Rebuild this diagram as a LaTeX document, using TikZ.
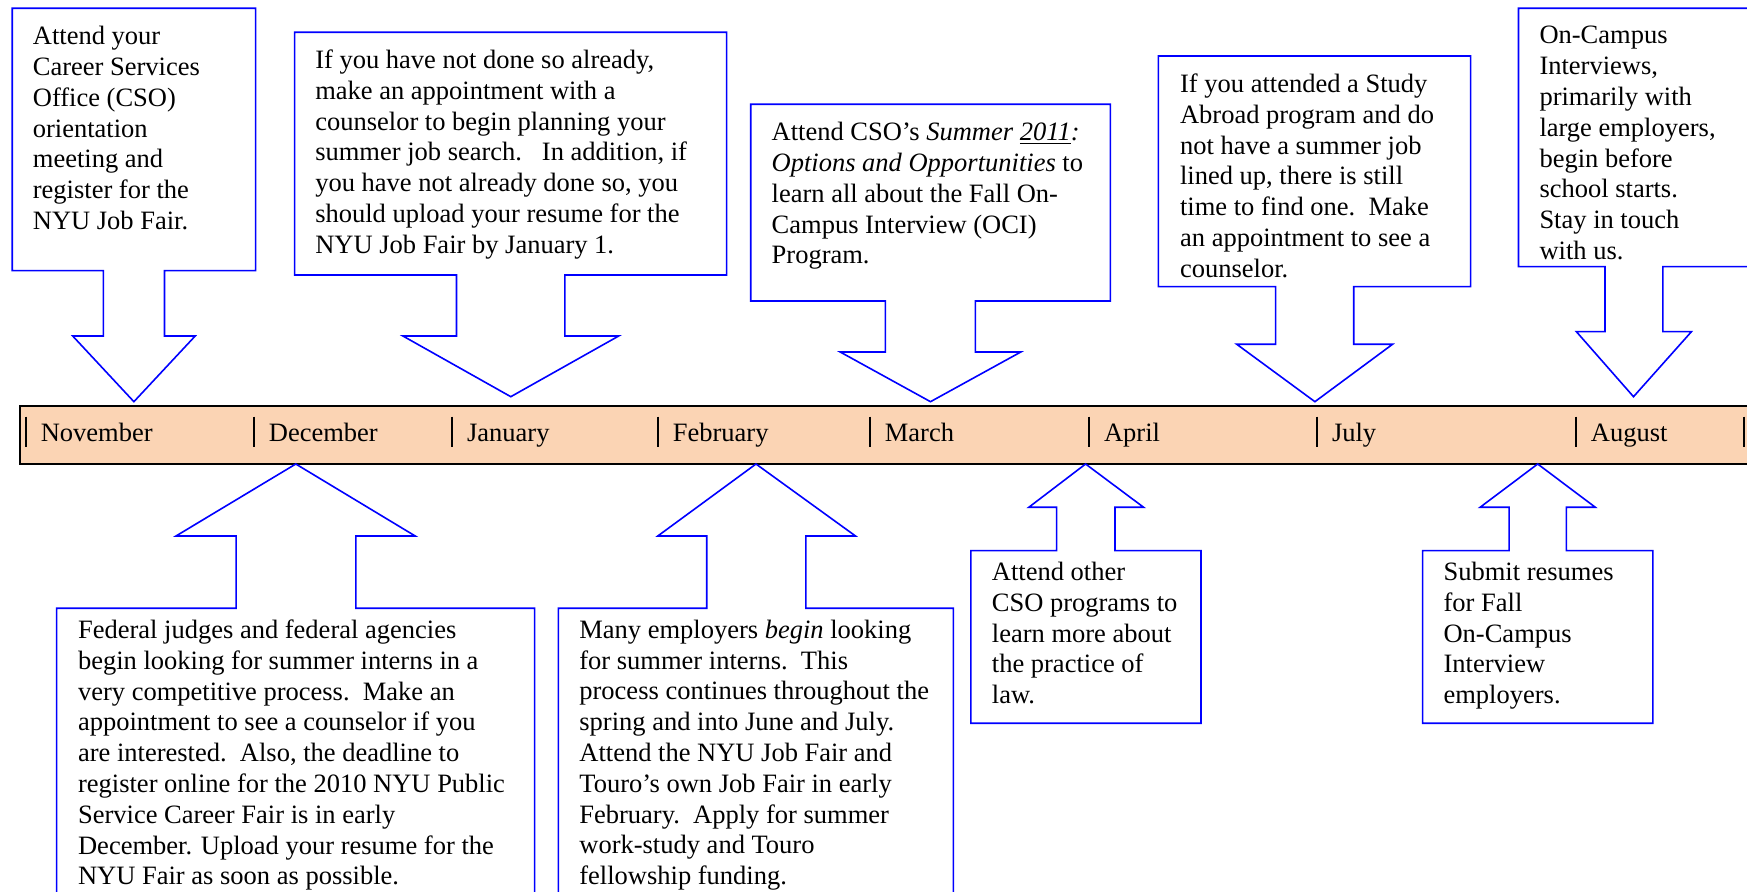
\documentclass[tikz,border=0pt]{standalone}
\usepackage{fontspec}
\setmainfont{Liberation Serif}
\definecolor{barfill}{RGB}{251,212,180}
\newcommand\notefont{\fontsize{13.25pt}{15.4pt}\selectfont}
\def\monthsep{14.8}

\begin{document}
\begin{tikzpicture}[x=0.5pt,y=-0.5pt]
    \tikzstyle{callout}=[draw=blue,fill=white,line width=0.8pt]
    \tikzstyle{note}=[anchor=north west,inner sep=0pt,align=left,font=\notefont]
    \tikzstyle{month}=[anchor=base west,inner sep=0pt,font=\notefont]
    \tikzstyle{tick}=[draw=black,line width=0.9pt]
    \tikzstyle{timeline}=[draw=black,fill=barfill,line width=1.1pt]

    \useasboundingbox (0,0) rectangle (1747,892);
    \clip (0,0) rectangle (1747,892);

    % Draw the time bar with its month ticks
    \draw[timeline] (19.9,406) rectangle (1800,464);
    \foreach \name / \x in {November/25.6,December/253.7,January/451.9,February/657.7,
                            March/869.7,April/1088.9,July/1316.8,August/1575.7}{
        \draw[tick] (\x,416.7) -- (\x,447.3);
        \node[month] (M-\name) at (\x+\monthsep,441.5) {\name};
    }
    \draw[tick] (1744,416.7) -- (1744,447.3);

    % Draw the callouts above the bar (arrow pointing down)
    \foreach \bl/\bt/\br/\bb/\sL/\sR/\sE/\hL/\hR/\tx/\ty in {
        12.2/8.3/255.6/270.7/103.3/164.5/336/72.7/195.2/133.9/401.7,
        294.6/32.3/726.6/275/456.5/564.8/336/402.9/618.7/510.8/396.7,
        750.7/104.3/1110.4/301/885.4/975.3/352/840.2/1020.8/930.5/401.7,
        1158.4/56/1470.6/286.7/1275.6/1353.7/344.3/1236.8/1392.5/1314.9/401.7,
        1518.5/8.3/1800/266.7/1605/1662.9/331.7/1576.4/1691.4/1633.5/396.7}
        \draw[callout] (\bl,\bt) -- (\br,\bt) -- (\br,\bb) -- (\sR,\bb) -- (\sR,\sE)
            -- (\hR,\sE) -- (\tx,\ty) -- (\hL,\sE) -- (\sL,\sE) -- (\sL,\bb) -- (\bl,\bb) -- cycle;

    % Draw the callouts below the bar (arrow pointing up)
    \foreach \bl/\bt/\br/\bb/\sL/\sR/\sE/\hL/\hR/\tx/\ty in {
        56.6/608.3/534.6/950/236.1/355.9/536/176/415.2/295.8/464,
        558.3/608.3/953.4/950/706.7/805.8/536/657.8/855.5/756/464,
        970.8/550.7/1201/723.3/1056.6/1115/507.3/1028.8/1143.6/1085.6/464,
        1422.6/550.7/1652.8/723.3/1509.1/1566.3/507.3/1480.1/1595.3/1537.7/464}
        \draw[callout] (\bl,\bt) -- (\sL,\bt) -- (\sL,\sE) -- (\hL,\sE) -- (\tx,\ty)
            -- (\hR,\sE) -- (\sR,\sE) -- (\sR,\bt) -- (\br,\bt) -- (\br,\bb) -- (\bl,\bb) -- cycle;

    % Texts of the upper callouts
    \node[note] (nov-note) at (32.5,26) {Attend your\\Career Services\\Office (CSO)\\orientation\\meeting and\\register for the\\NYU Job Fair.};
    \node[note] (jan-note) at (314.9,49.5) {If you have not done so already,\\make an appointment with a\\counselor to begin planning your\\summer job search.\ \ \ In addition, if\\you have not already done so, you\\should upload your resume for the\\NYU Job Fair by January 1.};
    \node[note] (mar-note) at (771.3,122) {Attend CSO’s \textit{Summer \underline{2011}:}\\\textit{Options and Opportunities} to\\learn all about the Fall On-\\Campus Interview (OCI)\\Program.};
    \node[note] (jul-note) at (1179.7,73.5) {If you attended a Study\\Abroad program and do\\not have a summer job\\lined up, there is still\\time to find one.\ \ Make\\an appointment to see a\\counselor.};
    \node[note] (aug-note) at (1539.1,26) {On-Campus\\Interviews,\\primarily with\\large employers,\\begin before\\school starts.\\Stay in touch\\with us.};

    % Texts of the lower callouts
    \node[note] (dec-note) at (77.7,619.5) {Federal judges and federal agencies\\begin looking for summer interns in a\\very competitive process.\ \ Make an\\appointment to see a counselor if you\\are interested.\ \ Also, the deadline to\\register online for the 2010 NYU Public\\Service Career Fair is in early\\December. Upload your resume for the\\NYU Fair as soon as possible.};
    \node[note] (feb-note) at (579,619.5) {Many employers \textit{begin} looking\\for summer interns.\ \ This\\process continues throughout the\\spring and into June and July.\\Attend the NYU Job Fair and\\Touro’s own Job Fair in early\\February.\ \ Apply for summer\\work-study and Touro\\fellowship funding.};
    \node[note] (apr-note) at (991.5,561.8) {Attend other\\CSO programs to\\learn more about\\the practice of\\law.};
    \node[note] (oci-note) at (1443.2,561.8) {Submit resumes\\for Fall\\On-Campus\\Interview\\employers.};
\end{tikzpicture}
\end{document}
